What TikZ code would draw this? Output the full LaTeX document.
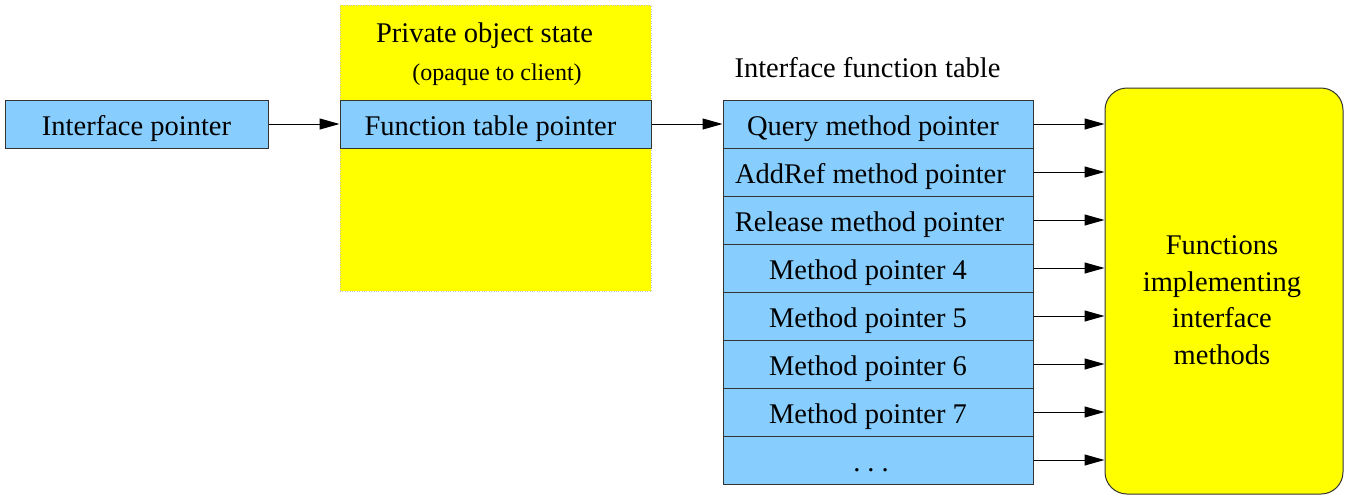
\documentclass[tikz,border=0pt]{standalone}
\usepackage{fontspec}
\setmainfont{Liberation Serif}
\usetikzlibrary{arrows.meta}
\definecolor{cellblue}{RGB}{135,206,255}
\definecolor{ybox}{RGB}{255,255,0}
\newcommand\padR[1]{\rule{#1}{0pt}}
\begin{document}
\begin{tikzpicture}[x=1pt,y=-1pt,
  cell/.style={draw=black!80,fill=cellblue,line width=1pt,inner sep=0pt,
    minimum width=#1,minimum height=48pt,text height=28pt,text depth=6pt,
    font=\fontsize{28.5}{34}\selectfont},
  cell/.default=310pt,
  arr/.style={-{Triangle[length=20pt,width=11pt]},line width=1pt},
  lbl/.style={inner sep=0pt,font=\fontsize{28.5}{34}\selectfont}]
\useasboundingbox (0,0) rectangle (1345,496);
% private state background
\node[draw=black!25,dotted,fill=ybox,minimum width=311pt,minimum height=286pt,inner sep=0pt] (priv) at (495.5,148) {};
\node[lbl,anchor=base] (ptitle) at (484.5,42) {Private object state};
\node[lbl,anchor=base,font=\fontsize{24}{28}\selectfont] (psub) at (497,80) {(opaque to client)};
% interface pointer
\node[cell=263pt] (ip) at (136.5,124) {Interface pointer};
\node[cell=311pt] (ftp) at (495.5,124) {Function table pointer\padR{10pt}};
% table
\node[lbl,anchor=base] (ttitle) at (867.5,77) {Interface function table};
\node[cell] (r1) at (878,124) {Query method pointer\padR{10pt}};
\node[cell] (r2) at (878,172) {AddRef method pointer\padR{15pt}};
\node[cell] (r3) at (878,220) {Release method pointer\padR{17pt}};
\node[cell] (r4) at (878,268) {Method pointer 4\padR{20pt}};
\node[cell] (r5) at (878,316) {Method pointer 5\padR{20pt}};
\node[cell] (r6) at (878,364) {Method pointer 6\padR{20pt}};
\node[cell] (r7) at (878,412) {Method pointer 7\padR{20pt}};
\node[cell] (r8) at (878,460) {.\hspace{7pt}.\hspace{7pt}.\padR{14pt}};
% functions box
\node[draw=black!80,fill=ybox,line width=1pt,rounded corners=22pt,minimum width=238pt,minimum height=406pt,inner sep=0pt] (fn) at (1224,291) {};
\node[inner sep=0pt,align=center,font=\fontsize{28.5}{36.5}\selectfont] (fntext) at (1222,300) {Functions\\implementing\\interface\\methods};
% arrows
\draw[arr] (ip.east) -- (ftp.west);
\draw[arr] (ftp.east) -- (r1.west);
\foreach \i in {1,...,8}{
  \draw[arr] (r\i.east) -- (r\i.east -| fn.west);
}
\end{tikzpicture}
\end{document}
